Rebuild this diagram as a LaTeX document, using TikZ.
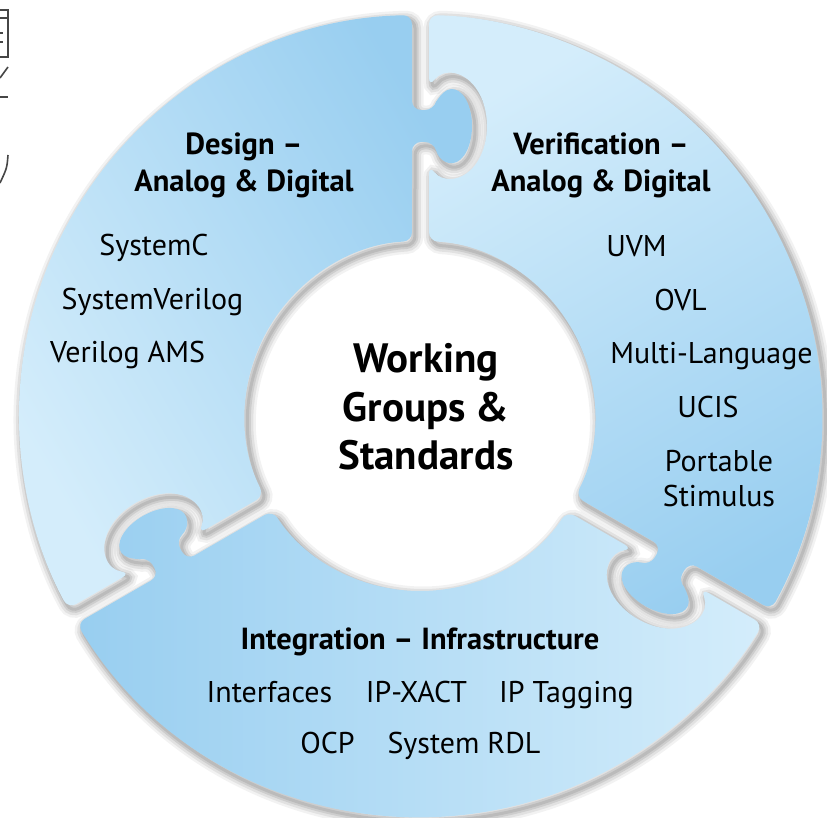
\documentclass[tikz,border=0pt]{standalone}
\usepackage{fontspec}
\setmainfont{PT Sans}

\definecolor{pieceLight}{RGB}{212,237,251}
\definecolor{pieceDark}{RGB}{152,206,240}
\definecolor{scrap}{RGB}{70,70,70}

% one puzzle piece, knob end on the +x axis, socket end at 120 degrees
\newcommand{\piecepath}{(225,8) -- (274,8) -- (274,-13.97)
  arc[start angle=115.6, end angle=424.4, x radius=37, y radius=20]
  -- (306,8) -- (400.9,8)
  arc[start angle=1.14, end angle=118.71, radius=401]
  {[rotate=120] -- (329.2,-9)
    arc[start angle=41.1, end angle=-221.1, x radius=52, y radius=35]
    -- (174.8,-9)}
  arc[start angle=117.05, end angle=2.62, radius=175] -- cycle}

\tikzset{
  head/.style={font=\bfseries\fontsize{30.5}{34}\selectfont, anchor=base, inner sep=0pt},
  item/.style={font=\fontsize{30}{34}\selectfont, anchor=base, inner sep=0pt},
  core/.style={font=\bfseries\fontsize{41}{46}\selectfont, anchor=base, inner sep=0pt}
}

\begin{document}
\begin{tikzpicture}[x=1pt, y=1pt]

  \useasboundingbox (-420,-402) rectangle (407,416);

  % --- soft shadows under the pieces ---
  \foreach \rot in {90,-30,210}{
    \begin{scope}[shift={(3,-4)}, rotate=\rot]
      \foreach \w/\o in {17/0.05, 12/0.07, 7/0.09, 3/0.09}
        \draw[line width=\w pt, black, opacity=\o, rounded corners=9pt] \piecepath;
    \end{scope}
  }

  % --- the three pieces ---
  \foreach \rot/\ang in {90/120, -30/30, 210/-90}{
    \begin{scope}[rotate=\rot]
      \shade[top color=pieceLight, bottom color=pieceDark, shading angle=\ang,
             rounded corners=9pt] \piecepath;
    \end{scope}
  }

  % --- scraps of text cut off at the left edge ---
  \draw[scrap, line width=1.3pt] (-420,406) -- (-412,406) -- (-412,359) -- (-420,359);
  \draw[scrap, line width=1.3pt] (-420,398) -- (-412,398);
  \draw[scrap, line width=1.3pt] (-420,383) -- (-417,383) (-420,374) -- (-417,374);
  \draw[scrap, line width=1.6pt] (-420,338) -- (-412,349);
  \draw[scrap, line width=1.6pt] (-420,319) -- (-412,319);
  \draw[scrap, line width=1.6pt] (-412,261) .. controls (-413,248) .. (-420,233);

  % --- centre ---
  \node[core] (core1) at (6,43) {Working};
  \node[core] (core2) at (6,-6) {Groups \&};
  \node[core] (core3) at (6,-54) {Standards};

  % --- design ---
  \node[head] (dhead1) at (-176,261) {Design –};
  \node[head] (dhead2) at (-176,224) {Analog \& Digital};
  \node[item] (sysc) at (-266,160) {SystemC};
  \node[item] (sysv) at (-267.5,106) {SystemVerilog};
  \node[item] (vams) at (-292.5,53) {Verilog AMS};

  % --- verification ---
  \node[head] (vhead1) at (181,261) {Verification –};
  \node[head] (vhead2) at (181,224) {Analog \& Digital};
  \node[item] (uvm) at (216.5,159) {UVM};
  \node[item] (ovl) at (260.5,105) {OVL};
  \node[item] (multi) at (291.5,52) {Multi-Language};
  \node[item] (ucis) at (288,-2) {UCIS};
  \node[item] (port1) at (299,-56) {Portable};
  \node[item] (port2) at (299,-91) {Stimulus};

  % --- integration ---
  \node[head] (ihead) at (0,-234) {Integration – Infrastructure};
  \node[item] (iface) at (-150.5,-287) {Interfaces};
  \node[item] (ipxact) at (-3.5,-287) {IP-XACT};
  \node[item] (iptag) at (146.5,-287) {IP Tagging};
  \node[item] (ocp) at (-92.5,-337) {OCP};
  \node[item] (rdl) at (44,-337) {System RDL};

\end{tikzpicture}
\end{document}
